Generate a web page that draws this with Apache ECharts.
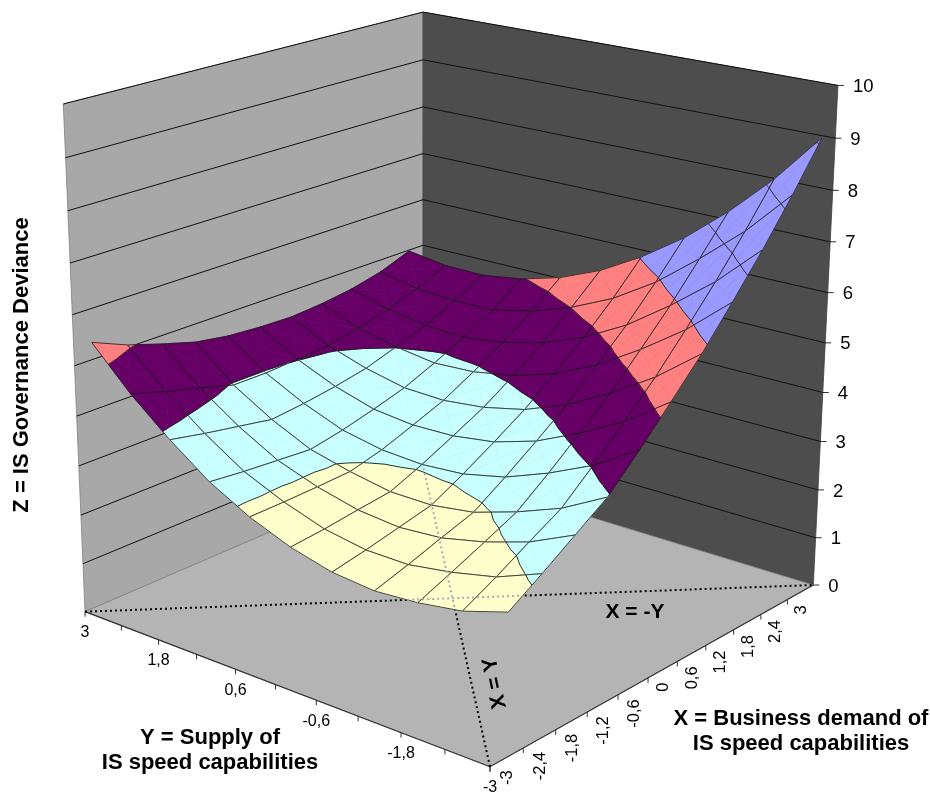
<!DOCTYPE html>
<html>
<head>
<meta charset="utf-8">
<title>IS Governance Deviance</title>
<style>
html, body { margin: 0; padding: 0; background: #fff; }
#chart { width: 930px; height: 795px; }
</style>
<script src="https://cdn.jsdelivr.net/npm/echarts@6/dist/echarts.min.js"></script>
</head>
<body>
<div id="chart"></div>
<script>
var chart = echarts.init(document.getElementById('chart'));

var xValues = [-3, -2.4, -1.8, -1.2, -0.6, 0, 0.6, 1.2, 1.8, 2.4, 3];
var yValues = [-3, -2.4, -1.8, -1.2, -0.6, 0, 0.6, 1.2, 1.8, 2.4, 3];
var xLabels = ['-3', '-2,4', '-1,8', '-1,2', '-0,6', '0', '0,6', '1,2', '1,8', '2,4', '3'];
var yLabelValues = [3, 1.8, 0.6, -0.6, -1.8, -3];
var yLabels = ['3', '1,8', '0,6', '-0,6', '-1,8', '-3'];
var zTicks = [0, 1, 2, 3, 4, 5, 6, 7, 8, 9, 10];

// one row per y value, from y = -3 to y = 3
var zYm30 = [2.72, 3.12, 3.54, 3.96, 4.57, 5.21, 5.87, 6.61, 7.38, 8.21, 9.10];
var zYm24 = [2.45, 2.78, 3.14, 3.49, 4.03, 4.60, 5.20, 5.87, 6.57, 7.33, 8.14];
var zYm18 = [2.32, 2.59, 2.87, 3.16, 3.63, 4.14, 4.66, 5.27, 5.90, 6.60, 7.32];
var zYm12 = [2.26, 2.46, 2.68, 2.89, 3.30, 3.74, 4.20, 4.74, 5.30, 5.93, 6.61];
var zYm06 = [2.34, 2.47, 2.62, 2.77, 3.11, 3.48, 3.87, 4.34, 4.84, 5.40, 6.03];
var zY00 = [2.55, 2.61, 2.70, 2.78, 3.05, 3.36, 3.68, 4.08, 4.51, 5.01, 5.55];
var zY06 = [2.87, 2.88, 2.90, 2.93, 3.10, 3.34, 3.59, 3.93, 4.30, 4.72, 5.20];
var zY12 = [3.30, 3.23, 3.18, 3.13, 3.26, 3.43, 3.62, 3.89, 4.19, 4.54, 4.97];
var zY18 = [3.88, 3.74, 3.62, 3.50, 3.57, 3.67, 3.80, 4.01, 4.23, 4.52, 4.85];
var zY24 = [4.55, 4.34, 4.16, 3.97, 3.97, 4.01, 4.06, 4.19, 4.36, 4.58, 4.86];
var zY30 = [5.34, 5.05, 4.83, 4.63, 4.52, 4.47, 4.45, 4.50, 4.59, 4.74, 4.98];
var zRows = [zYm30, zYm24, zYm18, zYm12, zYm06, zY00, zY06, zY12, zY18, zY24, zY30];

var bandLimits = [0, 3, 4, 5, 6, 10];
var bandColors = ['#FFFFCC', '#C8FFFF', '#660066', '#FF8080', '#9999FF'];
var contourLevels = [3, 4, 5, 6, 7, 8, 9];

var FONT = '"Liberation Sans", Arial, sans-serif';

// perspective camera of the box, u along x, v along y, w along z (all 0..1)
var cam = {
    ax: 443.1, bx: -394.2, cx: -28.8, dx: 490,
    ay: -95.5, by: -77.6, cy: -579, dy: 766.7,
    g: 0.1473, h: 0.1266, i: -0.0681
};

function project(u, v, w) {
    var d = 1 + cam.g * u + cam.h * v + cam.i * w;
    return [
        (cam.ax * u + cam.bx * v + cam.cx * w + cam.dx) / d,
        (cam.ay * u + cam.by * v + cam.cy * w + cam.dy) / d
    ];
}

// the surface sits on category centres along x, and on the ticks along y
function uOf(x) {
    return ((x + 3) / 0.6 + 0.5) / 11;
}
function vOf(y) {
    return (y + 3) / 6;
}

function clipHalf(poly, level, keepAbove) {
    var out = [];
    for (var n = 0; n < poly.length; n++) {
        var p = poly[n];
        var q = poly[(n + 1) % poly.length];
        var pIn = keepAbove ? p[2] >= level : p[2] <= level;
        var qIn = keepAbove ? q[2] >= level : q[2] <= level;
        if (pIn) {
            out.push(p);
        }
        if (pIn !== qIn) {
            var t = (level - p[2]) / (q[2] - p[2]);
            out.push([p[0] + (q[0] - p[0]) * t, p[1] + (q[1] - p[1]) * t, level]);
        }
    }
    return out;
}

function renderCell(params, api) {
    var j = api.value(0);
    var k = api.value(1);
    var toPoint = function (c) {
        return api.coord(project(c[0], c[1], c[2] / 10));
    };
    var c00 = [uOf(xValues[j]), vOf(yValues[k]), zRows[k][j]];
    var c10 = [uOf(xValues[j + 1]), vOf(yValues[k]), zRows[k][j + 1]];
    var c11 = [uOf(xValues[j + 1]), vOf(yValues[k + 1]), zRows[k + 1][j + 1]];
    var c01 = [uOf(xValues[j]), vOf(yValues[k + 1]), zRows[k + 1][j]];
    var mid = [
        (c00[0] + c11[0]) / 2,
        (c00[1] + c11[1]) / 2,
        (c00[2] + c10[2] + c11[2] + c01[2]) / 4
    ];
    var tris = [[c00, c10, mid], [c10, c11, mid], [c11, c01, mid], [c01, c00, mid]];
    var children = [];

    tris.forEach(function (tri) {
        for (var b = 0; b < bandColors.length; b++) {
            var poly = clipHalf(clipHalf(tri, bandLimits[b], true), bandLimits[b + 1], false);
            if (poly.length > 2) {
                children.push({
                    type: 'polygon',
                    shape: { points: poly.map(toPoint) },
                    style: { fill: bandColors[b], stroke: bandColors[b], lineWidth: 0.6 }
                });
            }
        }
    });

    tris.forEach(function (tri) {
        contourLevels.forEach(function (level) {
            var cross = [];
            for (var n = 0; n < 3; n++) {
                var p = tri[n];
                var q = tri[(n + 1) % 3];
                if ((p[2] < level) !== (q[2] < level)) {
                    var t = (level - p[2]) / (q[2] - p[2]);
                    cross.push([p[0] + (q[0] - p[0]) * t, p[1] + (q[1] - p[1]) * t, level]);
                }
            }
            if (cross.length === 2) {
                children.push({
                    type: 'polyline',
                    shape: { points: cross.map(toPoint) },
                    style: { stroke: '#1a1a1a', lineWidth: 0.9, fill: null }
                });
            }
        });
    });

    children.push({
        type: 'polygon',
        shape: { points: [c00, c10, c11, c01].map(toPoint) },
        style: { fill: null, stroke: '#1a1a1a', lineWidth: 0.8 }
    });
    return { type: 'group', children: children };
}

function boxPolygon(api, corners, fill, stroke) {
    return {
        type: 'polygon',
        shape: {
            points: corners.map(function (c) {
                return api.coord(project(c[0], c[1], c[2]));
            })
        },
        style: { fill: fill, stroke: stroke, lineWidth: 0.8 }
    };
}

function renderBox(params, api) {
    return {
        type: 'group',
        children: [
            boxPolygon(api, [[0, 1, 0], [1, 1, 0], [1, 1, 1], [0, 1, 1]], '#A8A8A8', '#808080'),
            boxPolygon(api, [[1, 0, 0], [1, 1, 0], [1, 1, 1], [1, 0, 1]], '#4D4D4D', '#404040'),
            boxPolygon(api, [[0, 0, 0], [1, 0, 0], [1, 1, 0], [0, 1, 0]], '#B4B4B4', '#808080'),
            {
                type: 'polyline',
                shape: { points: [api.coord(project(0, 1, 0)), api.coord(project(0, 0, 0)), api.coord(project(1, 0, 0))] },
                style: { stroke: '#333', lineWidth: 1.2, fill: null }
            }
        ]
    };
}

function renderZTick(params, api) {
    var tick = api.value(0);
    var w = tick / 10;
    var edge = api.coord(project(1, 0, w));
    var back = api.coord(project(1, 1, w));
    var left = api.coord(project(0, 1, w));
    var children = [{
        type: 'polyline',
        shape: { points: [edge, [edge[0] + 6, edge[1]]] },
        style: { stroke: '#333', lineWidth: 1, fill: null }
    }, {
        type: 'text',
        x: edge[0] + 15,
        y: edge[1] + 1.5,
        style: {
            text: String(tick), fontFamily: FONT, fontSize: 18.5, fill: '#000',
            align: 'left', verticalAlign: 'middle'
        }
    }];
    if (tick > 0) {
        children.push({
            type: 'polyline',
            shape: { points: [left, back, edge] },
            style: { stroke: '#111', lineWidth: 1, fill: null }
        });
    }
    return { type: 'group', children: children };
}

function renderXTick(params, api) {
    var n = params.dataIndex;
    var edge = api.coord(project(uOf(xValues[n]), 0, 0));
    var tick = api.coord(project(n / 11, 0, 0));
    return {
        type: 'group',
        children: [{
            type: 'polyline',
            shape: { points: [tick, [tick[0], tick[1] + 5]] },
            style: { stroke: '#333', lineWidth: 1, fill: null }
        }, {
            type: 'text',
            x: edge[0] + 1,
            y: edge[1] + 13,
            rotation: Math.PI / 2,
            style: {
                text: xLabels[n], fontFamily: FONT, fontSize: 16.5, fill: '#000',
                align: 'right', verticalAlign: 'middle'
            }
        }]
    };
}

function renderYTick(params, api) {
    var tick = api.coord(project(0, vOf(yValues[params.dataIndex]), 0));
    return {
        type: 'polyline',
        shape: { points: [tick, [tick[0], tick[1] + 5]] },
        style: { stroke: '#333', lineWidth: 1, fill: null }
    };
}

function renderYLabel(params, api) {
    var at = api.coord(project(0, vOf(yLabelValues[params.dataIndex]), 0));
    return {
        type: 'text',
        x: at[0],
        y: at[1] + 21,
        style: {
            text: yLabels[params.dataIndex], fontFamily: FONT, fontSize: 16, fill: '#000',
            align: 'center', verticalAlign: 'middle'
        }
    };
}

// diagonals of the floor, stored as [u0, v0, u1, v1]
var diagonals = [[0, 1, 1, 0], [0, 0, 1, 1]];
// stretch of each diagonal that lies under the surface, as fractions along it
var diagonalUnderSurface = [[0.431, 0.597], [0.471, 1]];

function renderDiagonal(params, api) {
    var d = diagonals[params.dataIndex];
    return {
        type: 'line',
        shape: {
            x1: api.coord(project(d[0], d[1], 0))[0],
            y1: api.coord(project(d[0], d[1], 0))[1],
            x2: api.coord(project(d[2], d[3], 0))[0],
            y2: api.coord(project(d[2], d[3], 0))[1]
        },
        style: { stroke: '#000', lineWidth: 2, lineDash: [2, 3], fill: null }
    };
}

function renderDiagonalOver(params, api) {
    var d = diagonals[params.dataIndex];
    var part = diagonalUnderSurface[params.dataIndex];
    var at = function (t) {
        return api.coord(project(d[0] + (d[2] - d[0]) * t, d[1] + (d[3] - d[1]) * t, 0));
    };
    var a = at(part[0]);
    var b = at(part[1]);
    return {
        type: 'line',
        shape: { x1: a[0], y1: a[1], x2: b[0], y2: b[1] },
        style: { stroke: '#A9A9B6', lineWidth: 2, lineDash: [2, 3], fill: null }
    };
}

var cells = [];
for (var j = xValues.length - 2; j >= 0; j--) {
    for (var k = yValues.length - 2; k >= 0; k--) {
        cells.push([j, k]);
    }
}

function customSeries(data, renderItem, z) {
    return {
        type: 'custom',
        coordinateSystem: 'cartesian2d',
        data: data,
        renderItem: renderItem,
        clip: false,
        silent: true,
        z: z,
        encode: { x: 0, y: 1 }
    };
}

function titleText(text, x, y, rotation, size) {
    return {
        type: 'text',
        x: x,
        y: y,
        rotation: rotation,
        z: 100,
        silent: true,
        style: {
            text: text, fontFamily: FONT, fontSize: size, fontWeight: 'bold', fill: '#000',
            align: 'center', verticalAlign: 'middle', lineHeight: 25
        }
    };
}

chart.setOption({
    animation: false,
    backgroundColor: '#fff',
    grid: { left: 0, top: 0, right: 0, bottom: 0, containLabel: false },
    xAxis: { type: 'value', min: 0, max: 930, show: false },
    yAxis: { type: 'value', min: 0, max: 795, inverse: true, show: false },
    tooltip: { show: false },
    series: [
        customSeries([[0, 0]], renderBox, 2),
        customSeries(zTicks.map(function (t) { return [t, 0]; }), renderZTick, 3),
        customSeries(xLabels.map(function (t, n) { return [n, 0]; }), renderXTick, 3),
        customSeries(yValues.map(function (t, n) { return [n, 0]; }), renderYTick, 3),
        customSeries(yLabels.map(function (t, n) { return [n, 0]; }), renderYLabel, 3),
        customSeries(diagonals.map(function (t, n) { return [n, 0]; }), renderDiagonal, 4),
        customSeries(cells, renderCell, 5),
        customSeries(diagonals.map(function (t, n) { return [n, 0]; }), renderDiagonalOver, 6)
    ],
    graphic: {
        elements: [
            titleText('Z = IS Governance Deviance', 22, 365, Math.PI / 2, 22),
            titleText('Y = Supply of\nIS speed capabilities', 210, 750, 0, 22),
            titleText('X = Business demand of\nIS speed capabilities', 801, 731, 0, 22),
            titleText('X = Y', 495, 683, 1.78, 21),
            titleText('X = -Y', 635, 612, 0, 21)
        ]
    }
});
</script>
</body>
</html>
